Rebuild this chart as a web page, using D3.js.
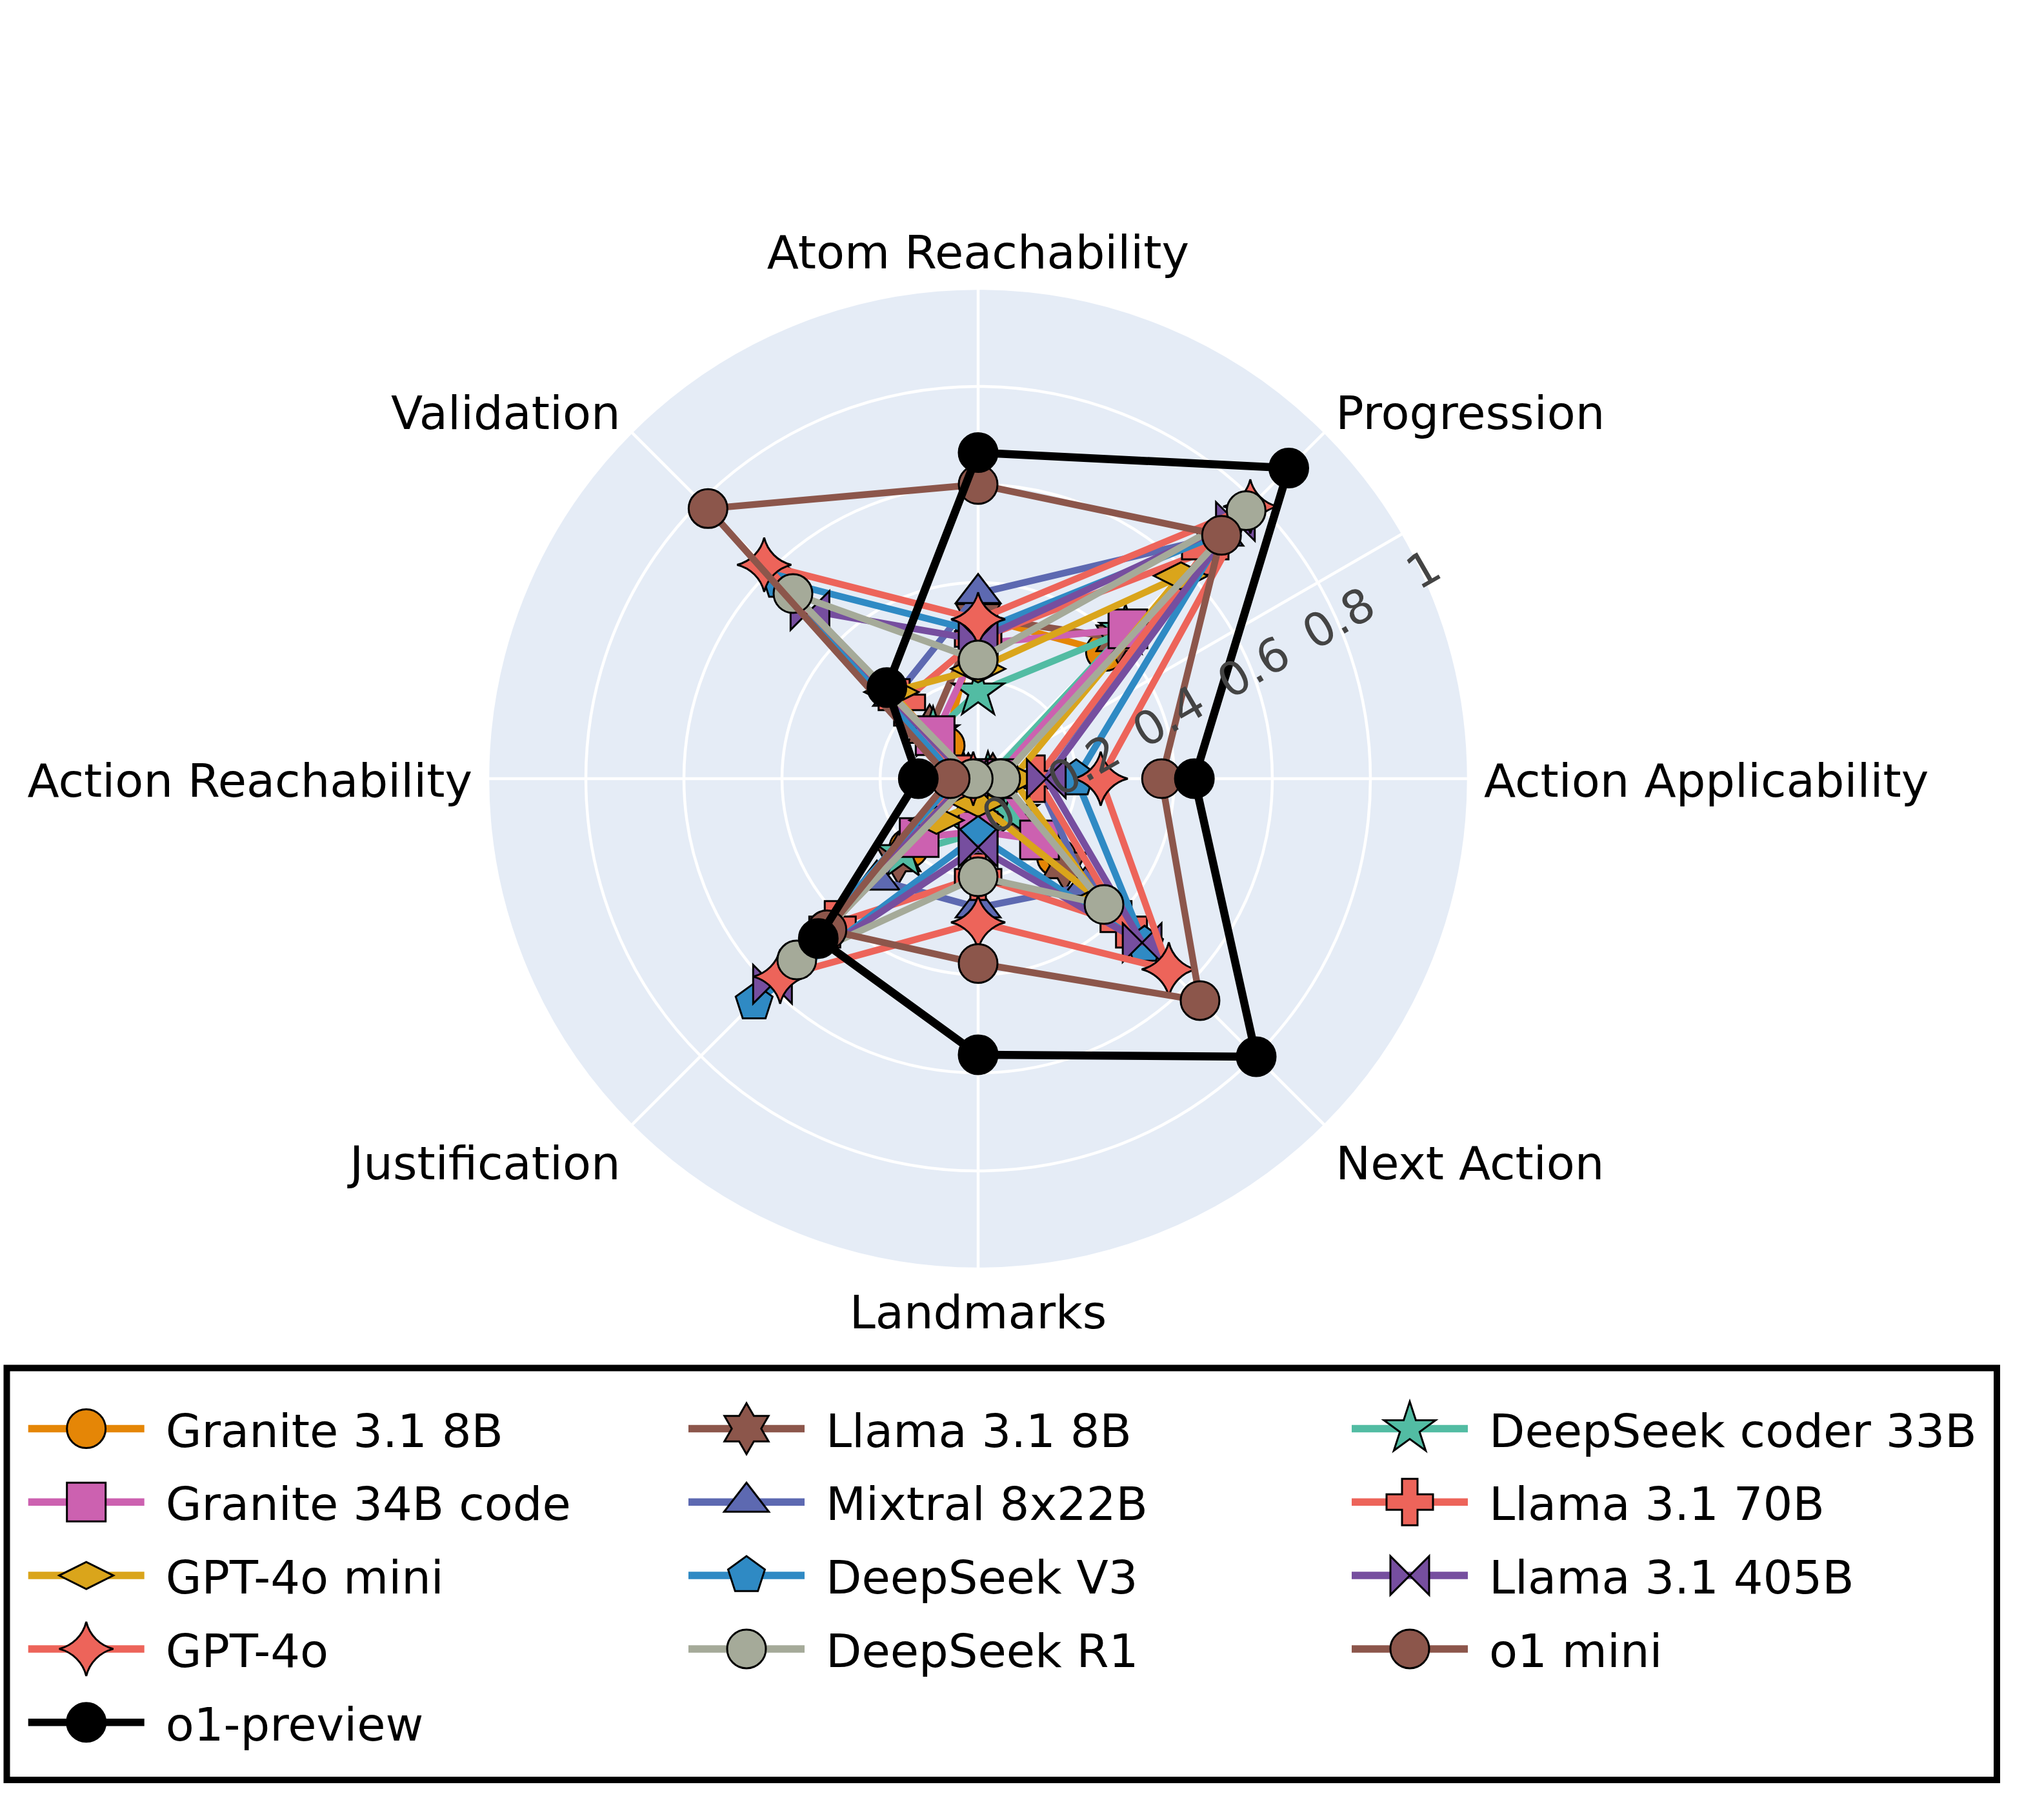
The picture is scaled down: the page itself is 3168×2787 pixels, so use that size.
<!DOCTYPE html>
<html><head><meta charset="utf-8">
<script src="https://cdn.jsdelivr.net/npm/d3@7"></script>
<style>
body{margin:0;background:#fff}
text{font-family:"DejaVu Sans",Verdana,sans-serif}
</style>
</head><body>
<svg id="chart" width="3168" height="2787"></svg>
<script>
// ---------- DATA ----------
const categories = ["Atom Reachability","Progression","Action Applicability","Next Action","Landmarks","Justification","Action Reachability","Validation"];
const radialTicks = [0, 0.2, 0.4, 0.6, 0.8, 1];
const radialTickLabels = ["0","0.2","0.4","0.6","0.8","1"];

const seriesNames = ["Granite 3.1 8B","Llama 3.1 8B","DeepSeek coder 33B","Granite 34B code","Mixtral 8x22B","Llama 3.1 70B","GPT-4o mini","DeepSeek V3","Llama 3.1 405B","GPT-4o","DeepSeek R1","o1 mini","o1-preview"];

const granite31_8b   = [0.33, 0.367, 0.05, 0.226, 0.05, 0.20, 0.02, 0.095];
const llama31_8b     = [0.33, 0.405, 0.03, 0.25, 0.04, 0.23, 0.02, 0.14];
const deepseekCoder  = [0.177, 0.425, 0.02, 0.10, 0.11, 0.216, 0.03, 0.13];
const granite34b     = [0.275, 0.432, 0.035, 0.177, 0.107, 0.17, 0.01, 0.124];
const mixtral        = [0.378, 0.70, 0.12, 0.31, 0.263, 0.292, 0.03, 0.238];
const llama31_70b    = [0.285, 0.655, 0.12, 0.42, 0.20, 0.42, 0.03, 0.22];
const gpt4oMini      = [0.224, 0.585, 0.07, 0.35, 0.05, 0.12, 0.02, 0.25];
const deepseekV3     = [0.30, 0.71, 0.20, 0.48, 0.116, 0.646, 0.044, 0.57];
const llama31_405b   = [0.283, 0.742, 0.139, 0.473, 0.14, 0.593, 0.02, 0.485];
const gpt4o          = [0.325, 0.785, 0.25, 0.55, 0.293, 0.571, 0.01, 0.617];
const deepseekR1     = [0.242, 0.773, 0.046, 0.363, 0.20, 0.523, 0.01, 0.534];
const o1mini         = [0.60, 0.702, 0.374, 0.64, 0.377, 0.436, 0.057, 0.779];
const o1preview      = [0.665, 0.896, 0.441, 0.802, 0.563, 0.461, 0.122, 0.263];

const seriesValues = [granite31_8b, llama31_8b, deepseekCoder, granite34b, mixtral, llama31_70b, gpt4oMini, deepseekV3, llama31_405b, gpt4o, deepseekR1, o1mini, o1preview];

// ---------- STYLE ----------
const colors = ["#E58606","#8C564B","#52BCA3","#CC61B0","#5D69B1","#ED645A","#DAA51B","#2F8AC4","#764E9F","#ED645A","#A5AA99","#8C564B","#000000"];
const symbols = ["circle","hexagram","star","square","triangle-up","cross","diamond-wide","pentagon","bowtie","star-diamond","circle","circle","circle"];

const W = 3168, H = 2787;
const cx = 1516, cy = 1207, R = 760;
const FONT = 72, TICKFONT = 72;

function rd(v){return Math.round(v*100)/100;}
const symbolPath = {
  "circle": r => `M${r},0A${r},${r} 0 1,1 0,-${r}A${r},${r} 0 0,1 ${r},0Z`,
  "square": r => `M${r},${r}H-${r}V-${r}H${r}Z`,
  "diamond-wide": r => {const x=rd(r*1.4), y=rd(r*0.7); return `M0,${y}L${x},0L0,-${y}L-${x},0Z`;},
  "triangle-up": r => {const rt=rd(r*2/Math.sqrt(3)), r2=rd(r/2); return `M-${rt},${r2}H${rt}L0,-${r}Z`;},
  "cross": r => {const a=rd(r*0.4), b=rd(r*1.2); return `M${b},${a}H${a}V${b}H-${a}V${a}H-${b}V-${a}H-${a}V-${b}H${a}V-${a}H${b}Z`;},
  "bowtie": r => `M${r},${r}V-${r}L-${r},${r}V-${r}Z`,
  "pentagon": r => {const x1=rd(r*0.951),x2=rd(r*0.588),y0=-r,y1=rd(r*-0.309),y2=rd(r*0.809);
      return `M${x1},${y1}L${x2},${y2}H-${x2}L-${x1},${y1}L0,${y0}Z`;},
  "star": r => {const rs=r*1.4; const x1=rd(rs*0.225),x2=rd(rs*0.951),x3=rd(rs*0.363),x4=rd(rs*0.588),
      y0=rd(-rs),y1=rd(rs*-0.309),y3=rd(rs*0.118),y4=rd(rs*0.809),y5=rd(rs*0.382);
      return `M${x1},${y1}H${x2}L${x3},${y3}L${x4},${y4}L0,${y5}L-${x4},${y4}L-${x3},${y3}L-${x2},${y1}H-${x1}L0,${y0}Z`;},
  "hexagram": r => {const y=rd(r*0.66),x1=rd(r*0.38),x2=rd(r*0.76);
      return `M-${x2},0l-${x1},-${y}h${x2}l${x1},-${y}l${x1},${y}h${x2}l-${x1},${y}l${x1},${y}h-${x2}l-${x1},${y}l-${x1},-${y}h-${x2}Z`;},
  "star-diamond": r => {const rc=rd(r*1.4), rrc=rd(r*1.9); const a=`A ${rrc},${rrc} 0 0 1 `;
      return `M-${rc},0${a}0,${rc}${a}${rc},0${a}0,-${rc}${a}-${rc},0Z`;}
};
const MR = 30;

const svg = d3.select("#chart");
svg.append("rect").attr("width",W).attr("height",H).attr("fill","#fff");

const rScale = d3.scaleLinear().domain([0,1]).range([0,R]);
const aScale = d3.scalePoint().domain(categories).range([0, 2*Math.PI*(categories.length-1)/categories.length]);

const g = svg.append("g").attr("transform",`translate(${cx},${cy})`);

// background disk
g.append("circle").attr("r",R).attr("fill","#E5ECF6");
// radial gridlines (circles)
g.selectAll("circle.grid").data(radialTicks.filter(t=>t>0)).enter().append("circle")
  .attr("class","grid").attr("r",d=>rScale(d)).attr("fill","none").attr("stroke","#fff").attr("stroke-width",4.5);
// angular gridlines
g.selectAll("line.spoke").data(categories).enter().append("line")
  .attr("x1",0).attr("y1",0)
  .attr("x2",d=>R*Math.sin(aScale(d))).attr("y2",d=>-R*Math.cos(aScale(d)))
  .attr("stroke","#fff").attr("stroke-width",4.5);
// radial axis line at 30 degrees
const axAng = 30*Math.PI/180;
g.append("line").attr("x1",0).attr("y1",0).attr("x2",R*Math.cos(axAng)).attr("y2",-R*Math.sin(axAng))
  .attr("stroke","#fff").attr("stroke-width",4.5);

// angular labels
categories.forEach(c=>{
  const a = aScale(c), s = Math.sin(a), co = Math.cos(a);
  const rr = R + 24;
  const x = rr*s, y = -rr*co;
  const anchor = s > 0.1 ? "start" : (s < -0.1 ? "end" : "middle");
  let off;
  if (co > 0.9) off = -7; else if (co > 0.5) off = 12; else if (co > -0.5) off = 27.5; else if (co > -0.9) off = 67; else off = 68;
  g.append("text").attr("x",x).attr("y",y+off).attr("text-anchor",anchor)
    .attr("font-size",FONT).attr("fill","#000").text(c);
});

// series
const line = d3.lineRadial().angle((d,i)=>aScale(categories[i])).radius(d=>rScale(d)).curve(d3.curveLinearClosed);
seriesValues.forEach((vals,si)=>{
  const sg = g.append("g");
  sg.append("path").attr("d",line(vals)).attr("fill","none")
    .attr("stroke",colors[si]).attr("stroke-width", si===12 ? 12.5 : 10.5).attr("stroke-linejoin","round");
  sg.selectAll("path.mk").data(vals).enter().append("path").attr("class","mk")
    .attr("d",symbolPath[symbols[si]](MR))
    .attr("transform",(d,i)=>{const a=aScale(categories[i]); return `translate(${rScale(d)*Math.sin(a)},${-rScale(d)*Math.cos(a)})`;})
    .attr("fill",colors[si]).attr("stroke","#000").attr("stroke-width",3);
});

// radial tick labels
const u = [Math.cos(axAng), -Math.sin(axAng)], p = [Math.sin(axAng), Math.cos(axAng)];
radialTicks.forEach((t,i)=>{
  const rr = rScale(t);
  const x = rr*u[0] + 64*p[0], y = rr*u[1] + 64*p[1];
  g.append("text").attr("transform",`translate(${x},${y}) rotate(-30)`)
    .attr("text-anchor","middle").attr("dominant-baseline","central")
    .attr("font-size",TICKFONT).attr("fill","#444").text(radialTickLabels[i]);
});

// legend
const lg = svg.append("g");
lg.append("rect").attr("x",10.5).attr("y",2120.5).attr("width",3084.5).attr("height",638.5)
  .attr("fill","#fff").attr("stroke","#000").attr("stroke-width",10);
const colX = [43.7, 1067, 2095], rowY0 = 2214.5, rowStep = 113.8;
seriesNames.forEach((n,i)=>{
  const col = i % 3, row = Math.floor(i/3);
  const x0 = colX[col], y = rowY0 + row*rowStep;
  const it = lg.append("g");
  it.append("line").attr("x1",x0).attr("x2",x0+180).attr("y1",y).attr("y2",y)
    .attr("stroke",colors[i]).attr("stroke-width",11.5);
  it.append("path").attr("d",symbolPath[symbols[i]](MR)).attr("transform",`translate(${x0+90},${y})`)
    .attr("fill",colors[i]).attr("stroke","#000").attr("stroke-width",3);
  it.append("text").attr("x",x0+213).attr("y",y+28).attr("font-size",FONT).attr("fill","#000").text(n);
});
</script>
</body></html>
